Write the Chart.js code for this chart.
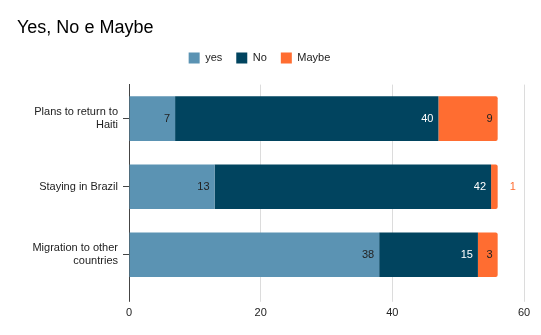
<html>
<head>
    <script src="https://cdn.jsdelivr.net/npm/chart.js"></script>
    <style>
        body { margin: 0; background: #fff; }
    </style>
</head>
<body>
    <canvas id="chart" width="541" height="335"></canvas>

    <script>
        var categories = [['Plans to return to', 'Haiti'], 'Staying in Brazil', ['Migration to other', 'countries']];
        var yesValues = [7, 13, 38];
        var noValues = [40, 42, 15];
        var maybeValues = [9, 1, 3];
        var xTicks = [0, 20, 40, 60];

        var fontFamily = "'Liberation Sans', Arial, sans-serif";

        // labels written at the inner end of each bar segment
        var barLabels = {
            id: 'barLabels',
            afterDatasetsDraw: function(chart) {
                var ctx = chart.ctx;
                ctx.save();
                ctx.font = '11px ' + fontFamily;
                ctx.textBaseline = 'middle';
                chart.data.datasets.forEach(function(ds, i) {
                    var meta = chart.getDatasetMeta(i);
                    meta.data.forEach(function(bar, j) {
                        var v = ds.data[j];
                        var w = Math.abs(bar.x - bar.base);
                        if (w < 14) {
                            ctx.textAlign = 'left';
                            ctx.fillStyle = ds.backgroundColor;
                            ctx.fillText(v, bar.x + 12, bar.y);
                        } else {
                            ctx.textAlign = 'right';
                            ctx.fillStyle = ds.labelColor;
                            ctx.fillText(v, bar.x - 5, bar.y);
                        }
                    });
                });
                ctx.restore();
            }
        };

        // more room under the legend, and the legend a little left of centre
        var legendTweak = {
            id: 'legendTweak',
            beforeInit: function(chart) {
                var fit = chart.legend.fit;
                chart.legend.fit = function() {
                    fit.call(this);
                    this.height += 11;
                };
                var draw = chart.legend.draw;
                chart.legend.draw = function() {
                    var c = this.ctx;
                    c.save();
                    c.translate(-11, 0);
                    draw.call(this);
                    c.restore();
                };
            }
        };

        var ctx = document.getElementById('chart').getContext('2d');
        var myChart = new Chart(ctx, {
            type: 'bar',
            data: {
                labels: categories,
                datasets: [{
                    label: 'yes',
                    data: yesValues,
                    backgroundColor: '#5b93b3',
                    labelColor: '#222',
                    categoryPercentage: 1,
                    barPercentage: 0.655
                }, {
                    label: 'No',
                    data: noValues,
                    backgroundColor: '#01445f',
                    labelColor: '#fff',
                    categoryPercentage: 1,
                    barPercentage: 0.655
                }, {
                    label: 'Maybe',
                    data: maybeValues,
                    backgroundColor: '#ff6d31',
                    labelColor: '#222',
                    categoryPercentage: 1,
                    barPercentage: 0.655,
                    borderRadius: { topRight: 2, bottomRight: 2 },
                    borderSkipped: false
                }]
            },
            options: {
                indexAxis: 'y',
                responsive: false,
                animation: false,
                layout: { padding: { left: 17, right: 17, top: 0, bottom: 10 } },
                plugins: {
                    title: {
                        display: true,
                        text: 'Yes, No e Maybe',
                        align: 'start',
                        color: '#000',
                        font: { family: fontFamily, size: 18, weight: 'normal' },
                        padding: { top: 17, bottom: 0 }
                    },
                    legend: {
                        labels: {
                            boxWidth: 11,
                            boxHeight: 11,
                            color: '#222',
                            font: { family: fontFamily, size: 11 },
                            padding: 14
                        }
                    },
                    tooltip: { enabled: false }
                },
                scales: {
                    x: {
                        stacked: true,
                        min: 0,
                        max: 60,
                        afterBuildTicks: function(scale) {
                            scale.ticks = xTicks.map(function(v) { return { value: v }; });
                        },
                        border: { display: false },
                        grid: {
                            color: function(c) { return c.tick && c.tick.value === 0 ? 'rgba(0,0,0,0)' : '#dcdcdc'; },
                            tickLength: 13,
                            tickColor: function(c) { return c.tick && c.tick.value === 0 ? '#444' : '#dcdcdc'; }
                        },
                        ticks: {
                            color: '#222',
                            padding: 5,
                            font: { family: fontFamily, size: 11 }
                        }
                    },
                    y: {
                        stacked: true,
                        afterFit: function(scale) { scale.width = 112; },
                        border: { display: true, color: '#444' },
                        grid: {
                            drawOnChartArea: false,
                            offset: false,
                            tickLength: 6,
                            color: '#444'
                        },
                        ticks: {
                            color: '#222',
                            padding: 5,
                            font: { family: fontFamily, size: 11 }
                        }
                    }
                }
            },
            plugins: [barLabels, legendTweak]
        });
    </script>
</body>
</html>
